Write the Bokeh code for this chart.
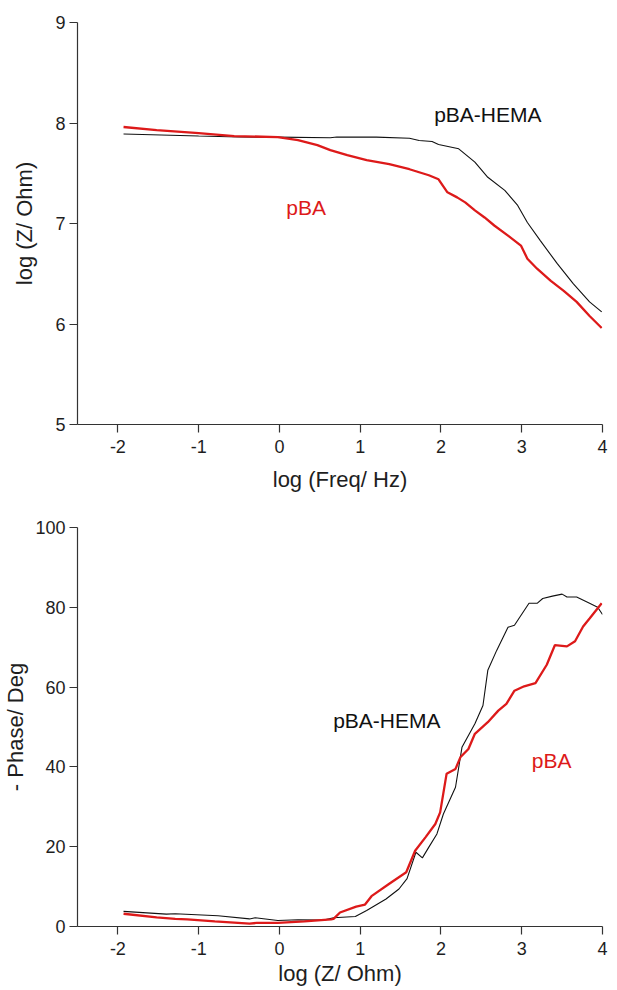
from bokeh.plotting import figure
from bokeh.layouts import column
from bokeh.models import Range1d, FixedTicker, Label
from bokeh.embed import file_html
from bokeh.resources import INLINE

# ---------------- data ----------------
# Top panel: log|Z| vs log frequency
bode_hema_x = [-1.93, -1.0, -0.5, -0.02, 0.63, 0.71, 1.20, 1.61, 1.73, 1.89, 1.97, 2.22,
               2.42, 2.58, 2.79, 2.95, 3.07, 3.23, 3.44, 3.64, 3.84, 3.99]
bode_hema_y = [7.89, 7.87, 7.86, 7.859, 7.853, 7.86, 7.859, 7.849, 7.826, 7.816, 7.786, 7.743,
               7.61, 7.46, 7.33, 7.18, 7.01, 6.83, 6.60, 6.40, 6.22, 6.12]

bode_pba_x = [-1.93, -1.52, -1.0, -0.56, -0.02, 0.23, 0.47, 0.63, 0.84, 1.08, 1.36, 1.61,
              1.73, 1.85, 1.97, 2.08, 2.20, 2.30, 2.42, 2.54, 2.66, 2.83, 2.99, 3.07,
              3.19, 3.36, 3.52, 3.68, 3.84, 3.99]
bode_pba_y = [7.96, 7.93, 7.90, 7.87, 7.86, 7.83, 7.78, 7.73, 7.68, 7.63, 7.59, 7.54,
              7.51, 7.48, 7.44, 7.31, 7.26, 7.21, 7.13, 7.06, 6.98, 6.88, 6.78, 6.65,
              6.55, 6.43, 6.33, 6.22, 6.08, 5.96]

# Bottom panel: -phase vs log
phase_hema_x = [-1.93, -1.4, -1.29, -0.76, -0.37, -0.3, -0.02, 0.23, 0.55, 0.67, 0.94, 1.08,
                1.32, 1.48, 1.58, 1.69, 1.77, 1.85, 1.95, 2.03, 2.18, 2.26, 2.42, 2.52,
                2.58, 2.69, 2.83, 2.91, 3.09, 3.19, 3.26, 3.38, 3.50, 3.56, 3.68, 3.84,
                3.94, 4.00]
phase_hema_y = [3.8, 3.1, 3.2, 2.7, 1.9, 2.2, 1.5, 1.7, 1.6, 2.2, 2.5, 4.0,
                6.9, 9.4, 12.0, 18.6, 17.2, 19.9, 23.2, 28.2, 34.9, 44.9, 50.8, 55.4,
                64.2, 69.2, 75.0, 75.5, 81.0, 81.0, 82.2, 82.8, 83.3, 82.6, 82.6, 81.0,
                80.0, 78.2]

phase_pba_x = [-1.93, -1.52, -1.29, -1.14, -0.8, -0.37, -0.28, -0.02, 0.31, 0.64, 0.67, 0.75,
               0.95, 1.06, 1.14, 1.36, 1.57, 1.68, 1.81, 1.93, 1.99, 2.07, 2.18, 2.24,
               2.34, 2.42, 2.58, 2.71, 2.81, 2.91, 3.03, 3.17, 3.31, 3.41, 3.56, 3.66,
               3.76, 3.84, 3.99]
phase_pba_y = [3.2, 2.3, 1.9, 1.8, 1.3, 0.7, 0.9, 0.9, 1.3, 1.8, 1.9, 3.5,
               5.0, 5.5, 7.6, 10.7, 13.6, 19.0, 22.4, 25.7, 28.6, 38.3, 39.5, 42.4,
               44.5, 48.3, 51.2, 54.1, 55.8, 59.1, 60.2, 61.0, 65.6, 70.5, 70.2, 71.5,
               75.2, 77.2, 81.0]

x_ticks = [-2, -1, 0, 1, 2, 3, 4]
x_tick_labels = ["-2", "-1", "0", "1", "2", "3", "4"]
top_y_ticks = [5, 6, 7, 8, 9]
bottom_y_ticks = [0, 20, 40, 60, 80, 100]

top_xlabel = "log (Freq/ Hz)"
top_ylabel = "log (Z/ Ohm)"
bottom_xlabel = "log (Z/ Ohm)"
bottom_ylabel = "- Phase/ Deg"
series_names = ["pBA-HEMA", "pBA"]

# ---------------- style ----------------
FONT = "Liberation Sans"
TXT = "#1e1e1e"
AX = "#333333"
RED = "#dd1a1a"
BLACK = "#111111"


def style(p, xlabel, ylabel, yticks, x_title_standoff, y_title_standoff):
    p.xgrid.grid_line_color = None
    p.ygrid.grid_line_color = None
    p.outline_line_color = None
    p.xaxis.ticker = FixedTicker(ticks=x_ticks)
    p.xaxis.major_label_overrides = {t: s for t, s in zip(x_ticks, x_tick_labels)}
    p.yaxis.ticker = FixedTicker(ticks=yticks)
    p.xaxis.axis_label = xlabel
    p.yaxis.axis_label = ylabel
    for ax in (p.xaxis, p.yaxis):
        ax.axis_line_color = AX
        ax.axis_line_width = 1.2
        ax.major_tick_line_color = AX
        ax.major_tick_line_width = 1.2
        ax.major_tick_out = 8
        ax.major_tick_in = 0
        ax.minor_tick_line_color = None
        ax.major_label_text_font = FONT
        ax.major_label_text_font_size = "18px"
        ax.major_label_text_color = TXT
        ax.axis_label_text_font = FONT
        ax.axis_label_text_font_size = "22px"
        ax.axis_label_text_font_style = "normal"
        ax.axis_label_text_color = TXT
    p.xaxis.major_label_standoff = 7
    p.xaxis.axis_label_standoff = x_title_standoff
    p.yaxis.major_label_standoff = 4
    p.yaxis.axis_label_standoff = y_title_standoff


p1 = figure(width=609, height=500, output_backend="svg", toolbar_location=None,
            x_range=Range1d(-2.5, 4), y_range=Range1d(5, 9),
            min_border_left=69, min_border_right=7, min_border_top=22, min_border_bottom=76)
style(p1, top_xlabel, top_ylabel, top_y_ticks, 11, 15)
p1.line(bode_hema_x, bode_hema_y, line_color=BLACK, line_width=1.1)
p1.line(bode_pba_x, bode_pba_y, line_color=RED, line_width=2.3)
p1.add_layout(Label(x=2.58, y=8.085, text=series_names[0], text_font=FONT, text_font_size="21px",
                    text_color=BLACK, text_align="center", text_baseline="middle"))
p1.add_layout(Label(x=0.33, y=7.16, text=series_names[1], text_font=FONT, text_font_size="21px",
                    text_color=RED, text_align="center", text_baseline="middle"))

p2 = figure(width=609, height=490, output_backend="svg", toolbar_location=None,
            x_range=Range1d(-2.5, 4), y_range=Range1d(0, 100),
            min_border_left=69, min_border_right=7, min_border_top=27, min_border_bottom=64)
style(p2, bottom_xlabel, bottom_ylabel, bottom_y_ticks, 3, 4)
p2.line(phase_hema_x, phase_hema_y, line_color=BLACK, line_width=1.1)
p2.line(phase_pba_x, phase_pba_y, line_color=RED, line_width=2.3)
p2.add_layout(Label(x=1.33, y=51.6, text=series_names[0], text_font=FONT, text_font_size="21px",
                    text_color=BLACK, text_align="center", text_baseline="middle"))
p2.add_layout(Label(x=3.37, y=41.6, text=series_names[1], text_font=FONT, text_font_size="21px",
                    text_color=RED, text_align="center", text_baseline="middle"))

layout = column(p1, p2, spacing=0)
open("out.html", "w").write(file_html(layout, INLINE))
